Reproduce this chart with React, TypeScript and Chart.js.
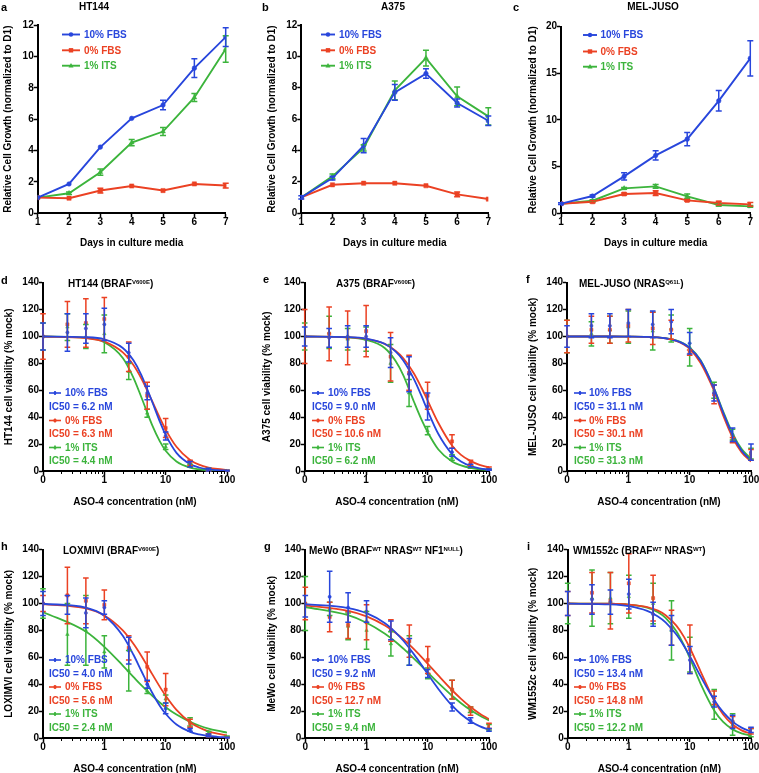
import React, { useEffect, useRef } from 'react';
import { Chart, registerables } from 'chart.js';

Chart.register(...registerables);

// ---------------- data ----------------
const SERIES = ['10% FBS', '0% FBS', '1% ITS'];

const DAYS = [1, 2, 3, 4, 5, 6, 7];
const DAY_TICKS = [1, 2, 3, 4, 5, 6, 7];
const GROWTH_TICKS_AB = [0, 2, 4, 6, 8, 10, 12];
const GROWTH_TICKS_C = [0, 5, 10, 15, 20];

// a: HT144 growth
const A_FBS10 = [1.0, 1.87, 4.22, 6.05, 6.9, 9.25, 11.23];
const A_FBS10_ERR = [0, 0, 0, 0, 0.3, 0.6, 0.6];
const A_FBS0 = [1.0, 0.96, 1.45, 1.74, 1.45, 1.87, 1.77];
const A_FBS0_ERR = [0, 0, 0.15, 0, 0, 0, 0.15];
const A_ITS = [1.0, 1.28, 2.62, 4.51, 5.21, 7.38, 10.47];
const A_ITS_ERR = [0, 0.08, 0.2, 0.2, 0.25, 0.25, 0.85];

// b: A375 growth
const B_FBS10 = [1.0, 2.23, 4.3, 7.7, 8.9, 7.02, 5.89];
const B_FBS10_ERR = [0.1, 0.12, 0.45, 0.5, 0.3, 0.25, 0.3];
const B_FBS0 = [1.0, 1.8, 1.9, 1.9, 1.74, 1.19, 0.89];
const B_FBS0_ERR = [0, 0, 0, 0, 0, 0.15, 0];
const B_ITS = [1.0, 2.34, 4.15, 7.83, 9.89, 7.45, 6.17];
const B_ITS_ERR = [0, 0.15, 0.2, 0.6, 0.5, 0.6, 0.55];

// c: MEL-JUSO growth
const C_FBS10 = [1.0, 1.82, 3.93, 6.18, 7.93, 12.04, 16.6];
const C_FBS10_ERR = [0.1, 0.1, 0.4, 0.5, 0.7, 1.1, 1.9];
const C_FBS0 = [1.0, 1.21, 2.04, 2.14, 1.36, 1.07, 0.93];
const C_FBS0_ERR = [0, 0.1, 0.1, 0.25, 0.1, 0.2, 0.2];
const C_ITS = [1.0, 1.32, 2.64, 2.86, 1.79, 0.86, 0.71];
const C_ITS_ERR = [0, 0.1, 0.1, 0.2, 0.25, 0.1, 0.1];

// dose-response
const DOSES = [0, 0.25, 0.5, 1, 2.5, 5, 10, 25, 50, 100];
const FIT_DOSES = [0, 0.5, 1, 2, 3, 4, 6, 8, 10, 15, 25, 35, 50, 70, 100];
const DOSE_TICKS = [0, 1, 10, 100];
const VIAB_TICKS = [0, 20, 40, 60, 80, 100, 120, 140];
const ZERO_AT = 0.1; // the "0" dose sits one decade below 1 on the log axis

// d: HT144
const D_FBS10 = [100, 103, 106, 109, 88, 58, 26, 5, 1, 0];
const D_FBS10_ERR = [10, 14, 11, 12, 7, 5, 3, 2, 1, 0.5];
const D_FBS0 = [100, 109, 110, 113, 85, 56, 32, 6, 1, 0];
const D_FBS0_ERR = [17, 17, 18, 16, 11, 10, 7, 2, 1, 0.5];
const D_ITS = [100, 107, 100, 102, 74, 43, 18, 4, 1, 0];
const D_ITS_ERR = [10, 10, 9, 14, 6, 3, 2, 1, 1, 0.5];
const D_FIT_FBS10 = [100, 99.5, 97.9, 91.5, 82.1, 71.5, 51.7, 36.9, 26.8, 13.5, 5.1, 2.6, 1.2, 0.6, 0.3];
const D_FIT_FBS0 = [100, 98.8, 96.2, 88.2, 78.6, 68.9, 52.1, 39.7, 30.8, 18, 8.2, 4.7, 2.6, 1.5, 0.8];
const D_FIT_ITS = [100, 99.0, 95.7, 84, 69.1, 55, 34.3, 22.2, 15.1, 7.1, 2.5, 1.3, 0.6, 0.3, 0.1];
const D_IC50 = [6.2, 6.3, 4.4];

// e: A375
const E_FBS10 = [100, 99, 100, 100, 88, 72, 48, 14, 4, 1];
const E_FBS10_ERR = [7, 7, 8, 8, 11, 13, 10, 3, 1, 0.5];
const E_FBS0 = [100, 102, 99, 104, 85, 73, 56, 22, 6, 2];
const E_FBS0_ERR = [20, 20, 20, 19, 18, 13, 10, 5, 2, 1];
const E_ITS = [100, 103, 98, 98, 80, 58, 30, 10, 3, 1];
const E_ITS_ERR = [10, 12, 8, 9, 14, 10, 3, 2, 1, 0.5];
const E_FIT_FBS10 = [100, 99.6, 98.5, 94.6, 89, 82.4, 68.3, 55.6, 45, 27.5, 12.6, 7, 3.7, 2, 1];
const E_FIT_FBS0 = [100, 99.4, 98.2, 94.5, 89.5, 84, 72.5, 61.7, 52.5, 35.7, 19, 12, 7.5, 4.5, 2.8];
const E_FIT_ITS = [100, 99.4, 97.5, 91.5, 82, 71.5, 51.5, 38, 29, 16, 7, 4.2, 2.3, 1.3, 0.7];
const E_IC50 = [9.0, 10.6, 6.2];

// f: MEL-JUSO
const F_FBS10 = [100, 108, 108, 110, 109, 111, 95, 58, 27, 14];
const F_FBS10_ERR = [8, 9, 9, 10, 10, 9, 8, 6, 5, 6];
const F_FBS0 = [100, 105, 105, 108, 106, 105, 88, 57, 23, 12];
const F_FBS0_ERR = [12, 10, 10, 12, 12, 7, 2, 7, 2, 4];
const F_ITS = [100, 102, 105, 107, 104, 106, 92, 60, 27, 13];
const F_ITS_ERR = [12, 9, 10, 12, 14, 10, 14, 6, 4, 4];
const F_FIT_FBS10 = [100, 100, 99.9, 99.7, 99.3, 98.7, 96.9, 94.5, 91.5, 82.1, 61.1, 43.7, 26.8, 15.3, 7.9];
const F_FIT_FBS0 = [100, 100, 99.9, 99.7, 99.3, 98.6, 96.7, 94.0, 90.8, 80.5, 59.5, 41.5, 25, 14, 7];
const F_FIT_ITS = [100, 100, 99.9, 99.7, 99.3, 98.8, 97.1, 94.8, 91.8, 82.5, 61.5, 44.5, 28, 16.5, 9];
const F_IC50 = [31.1, 30.1, 31.3];

// h: LOXIMVI
const H_FBS10 = [100, 99, 93, 97, 65, 40, 22, 6, 2, 0];
const H_FBS10_ERR = [9, 7, 11, 5, 10, 3, 4, 1, 1, 0.5];
const H_FBS0 = [100, 106, 102, 99, 67, 53, 36, 11, 2, 0];
const H_FBS0_ERR = [6, 21, 17, 11, 9, 11, 12, 3, 1, 0.5];
const H_ITS = [100, 77, 80, 64, 50, 35, 29, 12, 4, 1];
const H_ITS_ERR = [11, 23, 26, 12, 15, 2, 3, 3, 1, 0.5];
const H_FIT_FBS10 = [99.8, 96.9, 90.9, 76, 61.7, 50, 33.8, 24, 18, 10, 4.6, 2.7, 1.5, 0.9, 0.5];
const H_FIT_FBS0 = [99.6, 96.3, 91.1, 80, 69.9, 61.2, 47.7, 38.2, 31.4, 20.9, 11.7, 7.8, 5, 3.2, 2];
const H_FIT_ITS = [93.7, 79.1, 67.8, 53.9, 45.3, 39.3, 31.5, 26.4, 22.9, 17.4, 12, 9.3, 7, 5.4, 4];
const H_IC50 = [4.0, 5.6, 2.4];

// g: MeWo
const G_FBS10 = [98, 105, 97, 94, 80, 64, 48, 23, 13, 6];
const G_FBS10_ERR = [8, 19, 11, 8, 7, 10, 3, 3, 2, 1];
const G_FBS0 = [100, 90, 84, 86, 80, 72, 58, 36, 20, 9];
const G_FBS0_ERR = [12, 11, 10, 13, 8, 12, 10, 7, 3, 2];
const G_ITS = [100, 96, 83, 80, 70, 65, 48, 36, 21, 8];
const G_ITS_ERR = [20, 5, 10, 14, 9, 11, 4, 7, 2, 2];
const G_FIT_FBS10 = [99.5, 96.6, 92.8, 85.3, 78.4, 72.3, 62, 54, 47.6, 36.3, 24, 17.7, 12.5, 8.8, 6.1];
const G_FIT_FBS0 = [98.6, 94.5, 90.4, 83.6, 78.1, 73.4, 65.9, 60, 55.2, 46.3, 35.5, 29.1, 23, 18.2, 14];
const G_FIT_ITS = [97.4, 91.3, 85.7, 77.5, 71.4, 66.4, 58.9, 53.2, 48.8, 40.8, 31.4, 25.9, 20.8, 16.7, 13.1];
const G_IC50 = [9.2, 12.7, 9.4];

// i: WM1552c
const I_FBS10 = [100, 103, 101, 107, 92, 80, 58, 27, 12, 6];
const I_FBS10_ERR = [9, 11, 9, 11, 9, 11, 10, 4, 5, 2];
const I_FBS0 = [100, 108, 102, 115, 104, 82, 66, 30, 12, 5];
const I_FBS0_ERR = [9, 15, 21, 22, 17, 13, 18, 5, 4, 2];
const I_ITS = [100, 104, 104, 105, 100, 80, 62, 25, 10, 4];
const I_ITS_ERR = [15, 21, 19, 16, 15, 22, 13, 11, 8, 3];
const I_FIT_FBS10 = [99.9, 99.3, 98, 94.5, 90.4, 86, 76.9, 68.4, 60.8, 45.8, 28.2, 19.2, 12.2, 7.7, 4.7];
const I_FIT_FBS0 = [100, 99.8, 99.2, 97.3, 94.7, 91.3, 83.5, 75.2, 66.9, 49.4, 28, 17.5, 10, 5.7, 3.1];
const I_FIT_ITS = [100, 99.8, 99.1, 96.9, 93.5, 89.3, 79.4, 69, 59.3, 40.3, 20.4, 11.9, 6.4, 3.5, 1.8];
const I_IC50 = [13.4, 14.8, 12.2];

// ---------------- styles / layout ----------------
const FONT = '"Liberation Sans", Arial, Helvetica, sans-serif';
const COLORS = ['#2846dc', '#eb4123', '#3cb43c'];
const MARKERS = ['circle', 'rect', 'triangle'];
const W = 258;
const H = 270;
const F10 = { family: FONT, size: 10, weight: 'bold' as const, lineHeight: 1 };

const GROWTH_ROWS_AB = [34.5, 50.3, 65.7];
const GROWTH_ROWS_C = [35, 51.5, 66.7];
const DOSE_ROWS_2 = [138, 152, 165.5, 179, 192.5, 206];
const DOSE_ROWS_3 = [147, 160.5, 174, 187.5, 201, 214.5];

const PANELS: any[] = [
  { id: 'a', kind: 'growth', x0: 0, y0: 0, area: { l: 37.7, t: 25, r: 225.7, b: 213.3 }, xTitleY: 243, yTitleX: 8.3,
    yMax: 12, yTicks: GROWTH_TICKS_AB, values: [A_FBS10, A_FBS0, A_ITS], errors: [A_FBS10_ERR, A_FBS0_ERR, A_ITS_ERR],
    legend: { sx0: 62, sx1: 80, tx: 84, rows: GROWTH_ROWS_AB } },
  { id: 'b', kind: 'growth', x0: 253, y0: 0, area: { l: 48.3, t: 25, r: 235.3, b: 213 }, xTitleY: 243, yTitleX: 19,
    yMax: 12, yTicks: GROWTH_TICKS_AB, values: [B_FBS10, B_FBS0, B_ITS], errors: [B_FBS10_ERR, B_FBS0_ERR, B_ITS_ERR],
    legend: { sx0: 68, sx1: 82, tx: 86, rows: GROWTH_ROWS_AB } },
  { id: 'c', kind: 'growth', x0: 506, y0: 0, area: { l: 55, t: 26.7, r: 244.3, b: 213 }, xTitleY: 243, yTitleX: 27.5,
    yMax: 20, yTicks: GROWTH_TICKS_C, values: [C_FBS10, C_FBS0, C_ITS], errors: [C_FBS10_ERR, C_FBS0_ERR, C_ITS_ERR],
    legend: { sx0: 77, sx1: 91, tx: 94.5, rows: GROWTH_ROWS_C } },
  { id: 'd', kind: 'dose', cell: 'HT144', x0: 0, y0: 255, area: { l: 43, t: 27.7, r: 227, b: 216 }, xTitleY: 247, yTitleX: 9,
    values: [D_FBS10, D_FBS0, D_ITS], errors: [D_FBS10_ERR, D_FBS0_ERR, D_ITS_ERR], fits: [D_FIT_FBS10, D_FIT_FBS0, D_FIT_ITS], ic50: D_IC50,
    legend: { sx0: 49, sx1: 61, tx: 65, rows: DOSE_ROWS_2 } },
  { id: 'e', kind: 'dose', cell: 'A375', x0: 253, y0: 255, area: { l: 51.7, t: 27.7, r: 236, b: 216 }, xTitleY: 247, yTitleX: 14,
    values: [E_FBS10, E_FBS0, E_ITS], errors: [E_FBS10_ERR, E_FBS0_ERR, E_ITS_ERR], fits: [E_FIT_FBS10, E_FIT_FBS0, E_FIT_ITS], ic50: E_IC50,
    legend: { sx0: 59, sx1: 71, tx: 75, rows: DOSE_ROWS_2 } },
  { id: 'f', kind: 'dose', cell: 'MEL-JUSO', x0: 506, y0: 255, area: { l: 61, t: 27.7, r: 245, b: 216 }, xTitleY: 247, yTitleX: 27.5,
    values: [F_FBS10, F_FBS0, F_ITS], errors: [F_FBS10_ERR, F_FBS0_ERR, F_ITS_ERR], fits: [F_FIT_FBS10, F_FIT_FBS0, F_FIT_ITS], ic50: F_IC50,
    legend: { sx0: 68, sx1: 80, tx: 83, rows: DOSE_ROWS_2 } },
  { id: 'h', kind: 'dose', cell: 'LOXIMVI', x0: 0, y0: 513, area: { l: 43, t: 36.7, r: 227, b: 225 }, xTitleY: 256, yTitleX: 9,
    values: [H_FBS10, H_FBS0, H_ITS], errors: [H_FBS10_ERR, H_FBS0_ERR, H_ITS_ERR], fits: [H_FIT_FBS10, H_FIT_FBS0, H_FIT_ITS], ic50: H_IC50,
    legend: { sx0: 49, sx1: 61, tx: 65, rows: DOSE_ROWS_3 } },
  { id: 'g', kind: 'dose', cell: 'MeWo', x0: 253, y0: 513, area: { l: 52.3, t: 36.7, r: 236, b: 225 }, xTitleY: 256, yTitleX: 19,
    values: [G_FBS10, G_FBS0, G_ITS], errors: [G_FBS10_ERR, G_FBS0_ERR, G_ITS_ERR], fits: [G_FIT_FBS10, G_FIT_FBS0, G_FIT_ITS], ic50: G_IC50,
    legend: { sx0: 59, sx1: 71, tx: 75, rows: DOSE_ROWS_3 } },
  { id: 'i', kind: 'dose', cell: 'WM1552c', x0: 506, y0: 513, area: { l: 61.7, t: 36.7, r: 245, b: 225 }, xTitleY: 256, yTitleX: 27.5,
    values: [I_FBS10, I_FBS0, I_ITS], errors: [I_FBS10_ERR, I_FBS0_ERR, I_ITS_ERR], fits: [I_FIT_FBS10, I_FIT_FBS0, I_FIT_ITS], ic50: I_IC50,
    legend: { sx0: 68, sx1: 80, tx: 83, rows: DOSE_ROWS_3 } },
];

// Titles (page coordinates). Each part: [text, isSuperscript]
const TITLES: any[] = [
  { cx: 94, cy: 7, parts: [['HT144', false]] },
  { cx: 393, cy: 7, parts: [['A375', false]] },
  { cx: 653, cy: 7, parts: [['MEL-JUSO', false]] },
  { x: 68, cy: 284, parts: [['HT144 (BRAF', false], ['V600E', true], [')', false]] },
  { x: 336, cy: 284, parts: [['A375 (BRAF', false], ['V600E', true], [')', false]] },
  { x: 579, cy: 284, parts: [['MEL-JUSO (NRAS', false], ['Q61L', true], [')', false]] },
  { x: 63, cy: 551, parts: [['LOXMIVI (BRAF', false], ['V600E', true], [')', false]] },
  { x: 309, cy: 551, parts: [['MeWo (BRAF', false], ['WT', true], [' NRAS', false], ['WT', true], [' NF1', false], ['NULL', true], [')', false]] },
  { x: 573, cy: 551, parts: [['WM1552c (BRAF', false], ['WT', true], [' NRAS', false], ['WT', true], [')', false]] },
];

const LETTERS: any[] = [
  { t: 'a', x: 1, cy: 6.5 }, { t: 'b', x: 262, cy: 6.5 }, { t: 'c', x: 513, cy: 6.5 },
  { t: 'd', x: 1, cy: 280 }, { t: 'e', x: 263, cy: 279 }, { t: 'f', x: 526, cy: 279 },
  { t: 'h', x: 1, cy: 546 }, { t: 'g', x: 264, cy: 546 }, { t: 'i', x: 527, cy: 546 },
];

// ---------------- plugins ----------------
function drawMarker(ctx: CanvasRenderingContext2D, style: string, x: number, y: number, r: number) {
  ctx.beginPath();
  if (style === 'circle') ctx.arc(x, y, r, 0, Math.PI * 2);
  else if (style === 'rect') ctx.rect(x - r, y - r, 2 * r, 2 * r);
  else {
    ctx.moveTo(x, y - r * 1.2);
    ctx.lineTo(x + r * 1.15, y + r * 0.8);
    ctx.lineTo(x - r * 1.15, y + r * 0.8);
    ctx.closePath();
  }
  ctx.fill();
}

const errorBarPlugin = {
  id: 'errorBars',
  afterDatasetsDraw(chart: any) {
    const ctx = chart.ctx;
    const ys = chart.scales.y;
    const sets = chart.data.datasets;
    for (let di = sets.length - 1; di >= 0; di--) {
      const ds = sets[di];
      if (!ds.errors) continue;
      const meta = chart.getDatasetMeta(di);
      ctx.save();
      ctx.strokeStyle = ds.borderColor;
      ctx.lineWidth = 1.5;
      meta.data.forEach((el: any, i: number) => {
        const e = ds.errors[i];
        if (!e) return;
        const v = ds.data[i].y;
        const x = el.x;
        const y1 = ys.getPixelForValue(v + e);
        const y2 = ys.getPixelForValue(Math.max(v - e, 0));
        const c = ds.capHalf;
        ctx.beginPath();
        ctx.moveTo(x, y1); ctx.lineTo(x, y2);
        ctx.moveTo(x - c, y1); ctx.lineTo(x + c, y1);
        ctx.moveTo(x - c, y2); ctx.lineTo(x + c, y2);
        ctx.stroke();
      });
      ctx.restore();
    }
  },
};

const minorTickPlugin = {
  id: 'minorTicks',
  afterDraw(chart: any) {
    const sx = chart.scales.x;
    if (sx.type !== 'logarithmic') return;
    const ctx = chart.ctx;
    const y0 = chart.chartArea.bottom;
    ctx.save();
    ctx.strokeStyle = '#000';
    ctx.lineWidth = 1;
    for (const decade of [ZERO_AT, 1, 10]) {
      for (let m = 2; m <= 9; m++) {
        const px = Math.round(sx.getPixelForValue(decade * m)) + 0.5;
        ctx.beginPath();
        ctx.moveTo(px, y0);
        ctx.lineTo(px, y0 + 3);
        ctx.stroke();
      }
    }
    ctx.restore();
  },
};

function makeLegendPlugin(spec: any) {
  return {
    id: 'panelLegend',
    afterDraw(chart: any) {
      const ctx = chart.ctx;
      const L = spec.legend;
      ctx.save();
      ctx.font = `bold 10px ${FONT}`;
      ctx.textBaseline = 'middle';
      ctx.textAlign = 'left';
      SERIES.forEach((name, s) => {
        const color = COLORS[s];
        const isDose = spec.kind === 'dose';
        const y = isDose ? L.rows[s * 2] : L.rows[s];
        ctx.strokeStyle = color;
        ctx.fillStyle = color;
        ctx.lineWidth = isDose ? 1.6 : 1.9;
        ctx.beginPath();
        ctx.moveTo(L.sx0, y);
        ctx.lineTo(L.sx1, y);
        ctx.stroke();
        const mx = (L.sx0 + L.sx1) / 2;
        if (isDose) {
          ctx.beginPath();
          ctx.moveTo(mx, y - 2);
          ctx.lineTo(mx, y + 2);
          ctx.stroke();
          drawMarker(ctx, MARKERS[s], mx, y, 1.4);
        } else {
          drawMarker(ctx, MARKERS[s], mx, y, 2.2);
        }
        ctx.fillText(name, L.tx, y + 0.5);
        if (isDose) {
          ctx.fillText(`IC50 = ${spec.ic50[s].toFixed(1)} nM`, L.sx0, L.rows[s * 2 + 1] + 0.5);
        }
      });
      ctx.restore();
    },
  };
}

// ---------------- chart config ----------------
function axisCommon() {
  return {
    border: { display: true, color: '#000', width: 2 },
    grid: { display: true, drawOnChartArea: false, drawTicks: true, tickLength: 4, tickColor: '#000', tickWidth: 1.5 },
    ticks: { color: '#000', font: F10, padding: 0, autoSkip: false, maxRotation: 0, minRotation: 0 },
  };
}

const dosePos = (d: number) => (d === 0 ? ZERO_AT : d);

function buildConfig(spec: any) {
  const A = spec.area;
  const isDose = spec.kind === 'dose';
  const datasets: any[] = [];
  const pointR = isDose ? [1.6, 2.2, 2.0] : [2.3, 3.0, 2.8];

  SERIES.forEach((name, s) => {
    const color = COLORS[s];
    if (isDose) {
      datasets.push({
        label: name + ' fit',
        data: FIT_DOSES.map((d, i) => ({ x: dosePos(d), y: spec.fits[s][i] })),
        borderColor: color, backgroundColor: color, borderWidth: 1.8,
        pointRadius: 0, cubicInterpolationMode: 'monotone', fill: false,
      });
    }
  });
  SERIES.forEach((name, s) => {
    const color = COLORS[s];
    const xs = isDose ? DOSES.map(dosePos) : DAYS;
    datasets.push({
      label: name,
      data: xs.map((x, i) => ({ x, y: spec.values[s][i] })),
      errors: spec.errors[s],
      capHalf: isDose ? 2.8 : 3,
      borderColor: color, backgroundColor: color,
      borderWidth: 1.9,
      showLine: !isDose,
      pointStyle: MARKERS[s],
      pointRadius: pointR[s],
      pointBorderWidth: 0.5,
      pointBackgroundColor: color,
      pointBorderColor: color,
      tension: 0, fill: false,
    });
  });

  const xc = axisCommon();
  const yc = axisCommon();
  const xScale: any = isDose
    ? {
        type: 'logarithmic', min: ZERO_AT, max: 100, ...xc,
        afterBuildTicks: (sc: any) => { sc.ticks = DOSE_TICKS.map((v) => ({ value: dosePos(v) })); },
        ticks: { ...xc.ticks, callback: (v: any) => (v === ZERO_AT ? '0' : String(v)) },
      }
    : {
        type: 'linear', min: DAYS[0], max: DAYS[DAYS.length - 1], ...xc,
        afterBuildTicks: (sc: any) => { sc.ticks = DAY_TICKS.map((v) => ({ value: v })); },
      };
  xScale.afterFit = (sc: any) => { sc.height = H - A.b; };
  xScale.title = {
    display: true,
    text: isDose ? 'ASO-4 concentration (nM)' : 'Days in culture media',
    color: '#000', font: F10,
    padding: { top: 0, bottom: H - spec.xTitleY - 5 },
  };

  const yTicks = isDose ? VIAB_TICKS : spec.yTicks;
  const yScale: any = {
    type: 'linear', min: 0, max: isDose ? 140 : spec.yMax, ...yc,
    afterBuildTicks: (sc: any) => { sc.ticks = yTicks.map((v: number) => ({ value: v })); },
    afterFit: (sc: any) => { sc.width = A.l; },
    title: {
      display: true,
      text: isDose ? `${spec.cell} cell viability (% mock)` : 'Relative Cell Growth (normalized to D1)',
      color: '#000', font: F10,
      padding: { top: spec.yTitleX - 5, bottom: 0 },
    },
  };

  return {
    type: 'line',
    data: { datasets },
    options: {
      animation: false,
      responsive: false,
      maintainAspectRatio: false,
      devicePixelRatio: 1,
      layout: { padding: { left: 0, top: A.t, right: W - A.r, bottom: 0 } },
      plugins: { legend: { display: false }, tooltip: { enabled: false }, title: { display: false } },
      scales: { x: xScale, y: yScale },
    },
    plugins: [errorBarPlugin, minorTickPlugin, makeLegendPlugin(spec)],
  };
}

function Panel({ spec }: { spec: any }) {
  const ref = useRef<HTMLCanvasElement>(null);
  useEffect(() => {
    if (!ref.current) return;
    const chart = new Chart(ref.current, buildConfig(spec) as any);
    return () => chart.destroy();
  }, [spec]);
  return (
    <canvas
      ref={ref}
      width={W}
      height={H}
      style={{ position: 'absolute', left: spec.x0, top: spec.y0, width: W, height: H }}
    />
  );
}

function TitleText({ t }: { t: any }) {
  const style: any = {
    position: 'absolute', top: t.cy - 6, fontSize: 10, lineHeight: '12px', fontWeight: 'bold',
    whiteSpace: 'nowrap', color: '#000', fontFamily: FONT,
  };
  if (t.cx !== undefined) { style.left = t.cx; style.transform = 'translateX(-50%)'; }
  else style.left = t.x;
  return (
    <div style={style}>
      {t.parts.map((p: any, i: number) =>
        p[1] ? (
          <span key={i} style={{ fontSize: 6, position: 'relative', top: -3.5 }}>{p[0]}</span>
        ) : (
          <span key={i}>{p[0]}</span>
        )
      )}
    </div>
  );
}

export default function App() {
  return (
    <div style={{ position: 'fixed', left: 0, top: 0, width: 759, height: 773, overflow: 'hidden', background: '#fff', fontFamily: FONT }}>
      {PANELS.map((p) => <Panel key={p.id} spec={p} />)}
      {TITLES.map((t, i) => <TitleText key={i} t={t} />)}
      {LETTERS.map((l) => (
        <div key={l.t} style={{ position: 'absolute', left: l.x, top: l.cy - 7, fontSize: 11, lineHeight: '14px', fontWeight: 'bold', color: '#000' }}>{l.t}</div>
      ))}
    </div>
  );
}
